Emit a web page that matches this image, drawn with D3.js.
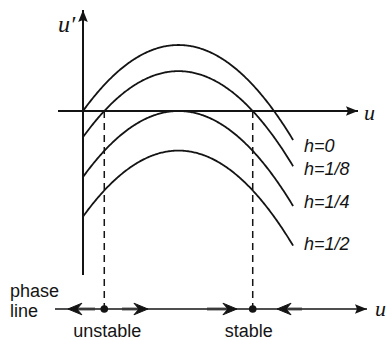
<!DOCTYPE html>
<html>
<head>
<meta charset="utf-8">
<script src="https://cdn.jsdelivr.net/npm/d3@7"></script>
<style>
  html, body { margin: 0; padding: 0; background: #fff; }
  svg { display: block; }
</style>
</head>
<body>
<svg id="chart" width="386" height="340"></svg>
<script>
// Logistic growth with constant harvesting: u' = u(1 - u) - h
const hLabels = ["h=0", "h=1/8", "h=1/4", "h=1/2"];
// downward shift of each growth curve (in u' units), as sketched
const curveDrop = [0, 0.099, 0.25, 0.40];
// extent of u over which each curve is sketched
const uExtent = [0, 1.1];
// flow arrows on the phase line: [tail u, head u]
const phaseArrows = [[0.063, -0.079], [0.204, 0.340], [0.649, 0.806], [1.147, 1.016]];
const pointLabels = ["unstable", "stable"];
// which curve's equilibria are projected onto the phase line
const phaseCurve = 1;

const svg = d3.select("#chart");
const ink = "#141414";

const x = d3.scaleLinear().domain([0, 1]).range([83, 274]);
const y = d3.scaleLinear().domain([0, 0.25]).range([111, 45]);
const phaseY = 309;

// axis arrowhead
const defs = svg.append("defs");
defs.append("marker")
  .attr("id", "axisHead").attr("viewBox", "-13 -6 14 12")
  .attr("refX", 0).attr("refY", 0)
  .attr("markerWidth", 14).attr("markerHeight", 12)
  .attr("markerUnits", "userSpaceOnUse").attr("orient", "auto")
  .append("path").attr("d", "M0,0 L-12,-4.8 L-10,0 L-12,4.8 Z").attr("fill", ink);

// axes
svg.append("line")
  .attr("x1", x(0)).attr("y1", 275).attr("x2", x(0)).attr("y2", 10)
  .attr("stroke", ink).attr("stroke-width", 2).attr("marker-end", "url(#axisHead)");
svg.append("line")
  .attr("x1", 58).attr("y1", y(0)).attr("x2", 358).attr("y2", y(0))
  .attr("stroke", ink).attr("stroke-width", 2).attr("marker-end", "url(#axisHead)");

// growth curves
const f = (u, d) => u * (1 - u) - d;
const samples = d3.range(uExtent[0], uExtent[1] + 1e-9, 0.005);
const line = d3.line().x(d => x(d[0])).y(d => y(d[1])).curve(d3.curveLinear);
svg.append("g").selectAll("path")
  .data(curveDrop)
  .join("path")
  .attr("d", d => line(samples.map(u => [u, f(u, d)])))
  .attr("fill", "none").attr("stroke", ink).attr("stroke-width", 1.8);

// curve labels
const labelBaselines = [152, 175, 208, 250];
svg.append("g").selectAll("text")
  .data(hLabels)
  .join("text")
  .attr("x", 304).attr("y", (d, i) => labelBaselines[i])
  .attr("font-family", "Liberation Sans, Arial, sans-serif")
  .attr("font-style", "italic").attr("font-size", 18).attr("fill", ink)
  .text(d => d);

// equilibria of the chosen curve: roots of u(1-u) = drop
const dRoot = curveDrop[phaseCurve];
const rootSpread = Math.sqrt(0.25 - dRoot);
const roots = [0.5 - rootSpread, 0.5 + rootSpread];

svg.append("g").selectAll("line")
  .data(roots)
  .join("line")
  .attr("x1", d => x(d)).attr("x2", d => x(d))
  .attr("y1", y(0)).attr("y2", phaseY)
  .attr("stroke", ink).attr("stroke-width", 1.5).attr("stroke-dasharray", "7,5");

// phase line
svg.append("line")
  .attr("x1", 55).attr("y1", phaseY).attr("x2", 367).attr("y2", phaseY)
  .attr("stroke", ink).attr("stroke-width", 1.6).attr("marker-end", "url(#axisHead)");

// flow arrows: shaft plus barbed head drawn at the head end
const flow = svg.append("g").selectAll("g")
  .data(phaseArrows)
  .join("g")
  .attr("transform", d => `translate(${x(d[1])},${phaseY}) scale(${Math.sign(d[1] - d[0])},1)`);
flow.append("line")
  .attr("x1", d => -Math.abs(x(d[1]) - x(d[0]))).attr("x2", -7)
  .attr("y1", 0).attr("y2", 0)
  .attr("stroke", "#3a3a3a").attr("stroke-width", 2.8);
flow.append("path")
  .attr("d", "M0,0 L-14,-5.8 L-9,0 L-14,5.8 Z")
  .attr("fill", ink).attr("stroke", ink).attr("stroke-width", 1).attr("stroke-linejoin", "round");

svg.append("g").selectAll("circle")
  .data(roots)
  .join("circle")
  .attr("cx", d => x(d)).attr("cy", phaseY).attr("r", 3.8).attr("fill", ink);

svg.append("g").selectAll("text")
  .data(pointLabels)
  .join("text")
  .attr("x", (d, i) => x(roots[i]) + (i === 0 ? 3 : -4)).attr("y", 337)
  .attr("text-anchor", "middle")
  .attr("font-family", "Liberation Sans, Arial, sans-serif")
  .attr("font-size", 18).attr("fill", ink)
  .text(d => d);

// text labels
const sans = "Liberation Sans, Arial, sans-serif";
const serif = "Liberation Serif, Times New Roman, serif";
svg.append("text").attr("x", 10).attr("y", 297)
  .attr("font-family", sans).attr("font-size", 18).attr("fill", ink).text("phase");
svg.append("text").attr("x", 10).attr("y", 317)
  .attr("font-family", sans).attr("font-size", 18).attr("fill", ink).text("line");

svg.append("text").attr("x", 58).attr("y", 32)
  .attr("font-family", serif).attr("font-style", "italic").attr("font-size", 24)
  .attr("fill", ink).text("u′");
svg.append("text").attr("x", 364).attr("y", 120)
  .attr("font-family", serif).attr("font-style", "italic").attr("font-size", 22)
  .attr("fill", ink).text("u");
svg.append("text").attr("x", 375).attr("y", 316)
  .attr("font-family", serif).attr("font-style", "italic").attr("font-size", 22)
  .attr("fill", ink).text("u");
</script>
</body>
</html>
